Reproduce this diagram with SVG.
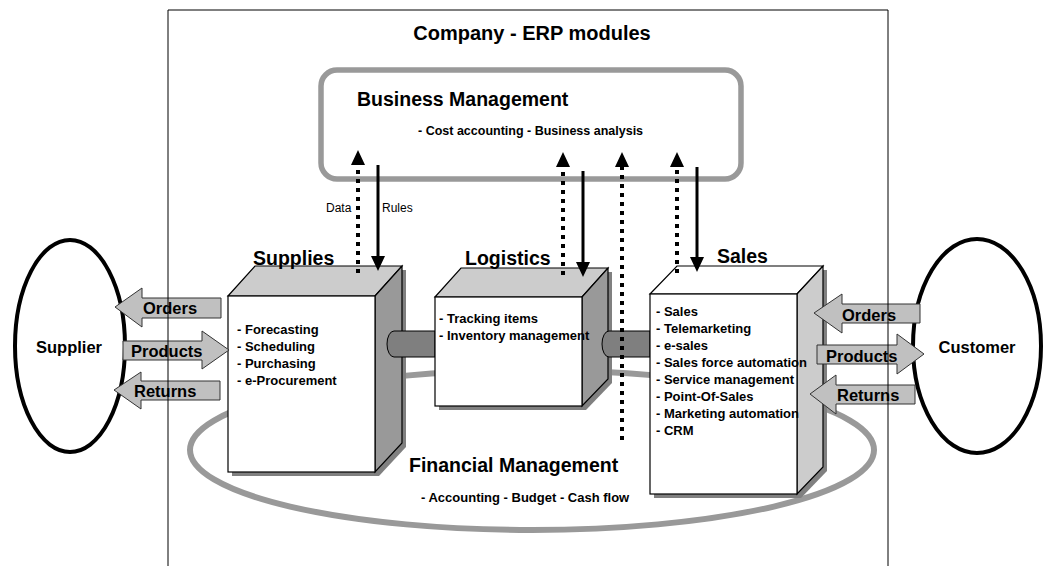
<svg xmlns="http://www.w3.org/2000/svg" width="1045" height="566" viewBox="0 0 1045 566">
  <defs>
    <style>
      .t { font-family: "Liberation Sans", Arial, sans-serif; fill: #000; }
      .head { font-size: 19.5px; font-weight: bold; }
      .list { font-size: 13px; font-weight: bold; }
      .lbl { font-size: 16.5px; font-weight: bold; }
      .small { font-size: 12px; }
      .edge { stroke: #000; stroke-width: 1.2; stroke-linejoin: miter; }
      .front { fill: #fff; }
      .topdark { fill: #ccc; }
      .sidedark { fill: #999; }
      .sidelight { fill: #ccc; }
      .shadow { fill: #808080; }
      .tube { fill: #7f7f7f; stroke: #000; stroke-width: 1; }
      .flow { fill: #c0c0c0; stroke: #333; stroke-width: 1; }
      .party { fill: #fff; stroke: #000; stroke-width: 4; }
      .data { stroke: #000; stroke-width: 4; stroke-dasharray: 4 5; fill: none; }
      .rule { stroke: #000; stroke-width: 3; fill: none; }
      .head-tri { fill: #000; }
    </style>
  </defs>

  <!-- company title -->
  <g id="company">
    <text class="t" x="532" y="40" font-size="20" font-weight="bold" text-anchor="middle">Company - ERP modules</text>
  </g>

  <!-- business management -->
  <g id="business-management">
    <rect x="321" y="70" width="420" height="109" rx="16" fill="#fff" stroke="#999" stroke-width="5.5"/>
    <text class="t head" x="357" y="106">Business Management</text>
    <text class="t" x="418" y="135" font-size="12.5" font-weight="bold">- Cost accounting - Business analysis</text>
  </g>

  <!-- financial management ring -->
  <g id="financial-management">
    <ellipse cx="532" cy="450" rx="342" ry="80" fill="none" stroke="#999" stroke-width="6"/>
    <text class="t head" x="409" y="472">Financial Management</text>
    <text class="t list" x="421" y="502">- Accounting - Budget - Cash flow</text>
  </g>

  <!-- supplies module -->
  <g id="supplies">
    <polygon class="shadow" points="232,300 259,270 406,270 406,447 379,476 232,476"/>
    <polygon class="topdark edge" points="228,296 255,266 402,266 375,296"/>
    <polygon class="sidedark edge" points="375,296 402,266 402,443 375,472"/>
    <rect class="front edge" x="228" y="296" width="147" height="176"/>
    <text class="t head" x="253" y="265">Supplies</text>
    <text class="t list" x="237" y="334">- Forecasting</text>
    <text class="t list" x="237" y="351">- Scheduling</text>
    <text class="t list" x="237" y="368">- Purchasing</text>
    <text class="t list" x="237" y="385">- e-Procurement</text>
  </g>

  <path id="link-supplies-logistics" class="tube" d="M435,331 H394 A7,13 0 0 0 394,357 H435 Z"/>

  <!-- logistics module -->
  <g id="logistics">
    <polygon class="shadow" points="439,301 465,272 612,272 612,383 586,410 439,410"/>
    <polygon class="topdark edge" points="435,297 461,268 608,268 582,297"/>
    <polygon class="sidedark edge" points="582,297 608,268 608,379 582,406"/>
    <rect class="front edge" x="435" y="297" width="147" height="109"/>
    <text class="t head" x="465" y="265">Logistics</text>
    <text class="t list" x="439" y="323">- Tracking items</text>
    <text class="t list" x="439" y="340">- Inventory management</text>
  </g>

  <path id="link-logistics-sales" class="tube" d="M650,331 H609 A7,13 0 0 0 609,357 H650 Z"/>

  <!-- sales module -->
  <g id="sales">
    <polygon class="shadow" points="654,298 681,270 827,270 827,471 801,498 654,498"/>
    <polygon class="front edge" points="650,294 677,266 823,266 797,294"/>
    <polygon class="sidelight edge" points="797,294 823,266 823,467 797,494"/>
    <rect class="front edge" x="650" y="294" width="147" height="200"/>
    <text class="t head" x="717" y="263">Sales</text>
    <text class="t list" x="656" y="316">- Sales</text>
    <text class="t list" x="656" y="333">- Telemarketing</text>
    <text class="t list" x="656" y="350">- e-sales</text>
    <text class="t list" x="656" y="367">- Sales force automation</text>
    <text class="t list" x="656" y="384">- Service management</text>
    <text class="t list" x="656" y="401">- Point-Of-Sales</text>
    <text class="t list" x="656" y="418">- Marketing automation</text>
    <text class="t list" x="656" y="435">- CRM</text>
  </g>

  <!-- supplier -->
  <g id="supplier">
    <ellipse class="party" cx="70" cy="346" rx="55" ry="106"/>
    <text class="t lbl" x="69" y="353" text-anchor="middle">Supplier</text>
  </g>

  <!-- customer -->
  <g id="customer">
    <ellipse class="party" cx="977" cy="346" rx="64" ry="107"/>
    <text class="t lbl" x="977" y="353" text-anchor="middle">Customer</text>
  </g>

  <!-- material flows between partners and modules -->
  <g id="flows">
    <polygon class="flow" points="115,307 142,288 142,298 221,298 221,318 142,318 142,327"/>
    <text class="t lbl" x="143" y="314">Orders</text>
    <polygon class="flow" points="229,350 202,331 202,341 123,341 123,360 202,360 202,369"/>
    <text class="t lbl" x="131" y="357">Products</text>
    <polygon class="flow" points="114,390 141,372 141,381 220,381 220,400 141,400 141,409"/>
    <text class="t lbl" x="134" y="397">Returns</text>

    <polygon class="flow" points="814,313 842,294 842,304 920,304 920,323 842,323 842,333"/>
    <text class="t lbl" x="842" y="321">Orders</text>
    <polygon class="flow" points="924,354 897,334 897,345 817,345 817,364 897,364 897,374"/>
    <text class="t lbl" x="826" y="362">Products</text>
    <polygon class="flow" points="810,394 836,375 836,385 915,385 915,404 836,404 836,414"/>
    <text class="t lbl" x="837" y="401">Returns</text>
  </g>

  <!-- company boundary, drawn over the flows -->
  <path id="company-boundary" d="M168,566 V10 H888 V566" fill="none" stroke="#000" stroke-width="1"/>

  <!-- data (dotted, up) and rules (solid, down) -->
  <g id="connectors">
    <line class="data" x1="358" y1="273" x2="358" y2="164"/>
    <polygon class="head-tri" points="358,150 351,165 365,165"/>
    <line class="rule" x1="378" y1="165" x2="378" y2="257"/>
    <polygon class="head-tri" points="378,271 371,256 385,256"/>

    <line class="data" x1="563" y1="275" x2="563" y2="166"/>
    <polygon class="head-tri" points="563,152 556,167 570,167"/>
    <line class="rule" x1="583" y1="171" x2="583" y2="263"/>
    <polygon class="head-tri" points="583,277 576,262 590,262"/>

    <line class="data" x1="622" y1="440" x2="622" y2="166"/>
    <polygon class="head-tri" points="622,152 615,167 629,167"/>

    <line class="data" x1="677" y1="273" x2="677" y2="166"/>
    <polygon class="head-tri" points="677,152 670,167 684,167"/>
    <line class="rule" x1="697" y1="167" x2="697" y2="258"/>
    <polygon class="head-tri" points="697,272 690,257 704,257"/>

    <text class="t small" x="326" y="212">Data</text>
    <text class="t small" x="382" y="212">Rules</text>
  </g>
</svg>
